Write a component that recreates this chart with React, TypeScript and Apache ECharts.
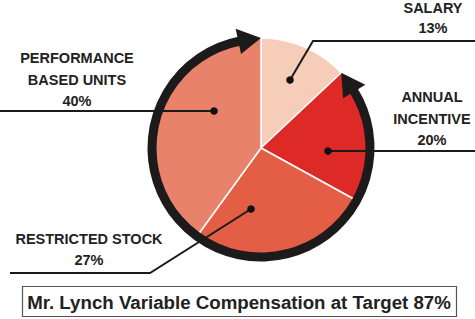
import React, { useEffect, useRef } from "react";
import * as echarts from "echarts";

const categories = ["SALARY", "ANNUAL INCENTIVE", "RESTRICTED STOCK", "PERFORMANCE BASED UNITS"];
const labelNames = ["SALARY", "ANNUAL\nINCENTIVE", "RESTRICTED STOCK", "PERFORMANCE\nBASED UNITS"];
const values = [13, 20, 27, 40];
const colors = ["#F6CDB9", "#DE2A27", "#E35E45", "#E8826A"];
const title = "Mr. Lynch Variable Compensation at Target 87%";

const CX = 261;
const CY = 148;
const PIE_R = 110;
const RING_R = 109;
const FONT = '"Liberation Sans", Arial, Helvetica, sans-serif';

// annotation layout: label centre, line height, leader-line points, dot
const annot = [
  { lx: 433, ly: 18, lh: 20, line: [[475, 41], [313, 41], [290, 80]], dot: [290, 80] },
  { lx: 432, ly: 118.5, lh: 21.5, line: [[475, 151], [328, 151]], dot: [328, 151] },
  { lx: 89, ly: 249.5, lh: 21, line: [[10, 273], [150, 273], [251, 209]], dot: [251, 209] },
  { lx: 77, ly: 79.5, lh: 21.5, line: [[0, 111], [214, 111]], dot: [214, 111] },
];

function pt(clockDeg: number, r: number): number[] {
  const a = (clockDeg * Math.PI) / 180;
  return [CX + r * Math.sin(a), CY - r * Math.cos(a)];
}

export default function App() {
  const ref = useRef<HTMLDivElement>(null);
  useEffect(() => {
    if (!ref.current) return;
    const chart = echarts.init(ref.current, null, { renderer: "svg" });
    const total = values.reduce((a, b) => a + b, 0);
    const gapEnd = (values[0] / total) * 360; // salary slice end angle
    const headLen = 12;
    const headHalf = 13;
    const arcStart = gapEnd + headLen;
    const arcEnd = 360 - headLen;
    const toRad = (clock: number) => ((clock - 90) * Math.PI) / 180;

    const headTop = [pt(360, RING_R + 1), pt(arcEnd, RING_R + headHalf), pt(arcEnd, RING_R - headHalf)];
    const headRight = [pt(gapEnd, RING_R + 1), pt(arcStart, RING_R + headHalf), pt(arcStart, RING_R - headHalf)];

    const graphics: any[] = [
      {
        type: "arc",
        z: 50,
        shape: { cx: CX, cy: CY, r: RING_R, startAngle: toRad(arcStart - 1), endAngle: toRad(arcEnd + 1), clockwise: true },
        style: { stroke: "#1c1a1a", lineWidth: 9, fill: null },
      },
      { type: "polygon", z: 51, shape: { points: headTop }, style: { fill: "#1c1a1a" } },
      { type: "polygon", z: 51, shape: { points: headRight }, style: { fill: "#1c1a1a" } },
    ];

    annot.forEach((a, i) => {
      graphics.push({
        type: "polyline",
        z: 60,
        shape: { points: a.line },
        style: { stroke: "#1a1a1a", lineWidth: 2, fill: null },
      });
      graphics.push({
        type: "circle",
        z: 61,
        shape: { cx: a.dot[0], cy: a.dot[1], r: 3.8 },
        style: { fill: "#111" },
      });
      graphics.push({
        type: "text",
        z: 62,
        x: a.lx,
        y: a.ly,
        style: {
          text: labelNames[i] + "\n" + values[i] + "%",
          fill: "#222",
          fontSize: 14.5,
          fontWeight: "bold",
          fontFamily: FONT,
          align: "center",
          verticalAlign: "middle",
          lineHeight: a.lh,
        },
      });
    });

    graphics.push({
      type: "rect",
      z: 60,
      shape: { x: 22.5, y: 286.5, width: 434, height: 30 },
      style: { stroke: "#555", lineWidth: 1.2, fill: null },
    });
    graphics.push({
      type: "text",
      z: 62,
      x: 239,
      y: 302,
      style: {
        text: title,
        fill: "#222",
        fontSize: 18.7,
        fontWeight: "bold",
        fontFamily: FONT,
        align: "center",
        verticalAlign: "middle",
      },
    });

    chart.setOption({
      animation: false,
      backgroundColor: "#ffffff",
      series: [
        {
          type: "pie",
          center: [CX, CY],
          radius: [0, PIE_R],
          startAngle: 90,
          clockwise: true,
          silent: true,
          label: { show: false },
          labelLine: { show: false },
          itemStyle: { borderColor: "#ffffff", borderWidth: 1.5 },
          data: categories.map((c, i) => ({ name: c, value: values[i], itemStyle: { color: colors[i] } })),
        },
      ],
      graphic: graphics,
    });
    return () => chart.dispose();
  }, []);
  return <div ref={ref} style={{ position: "fixed", left: 0, top: 0, width: 475, height: 319 }} />;
}
